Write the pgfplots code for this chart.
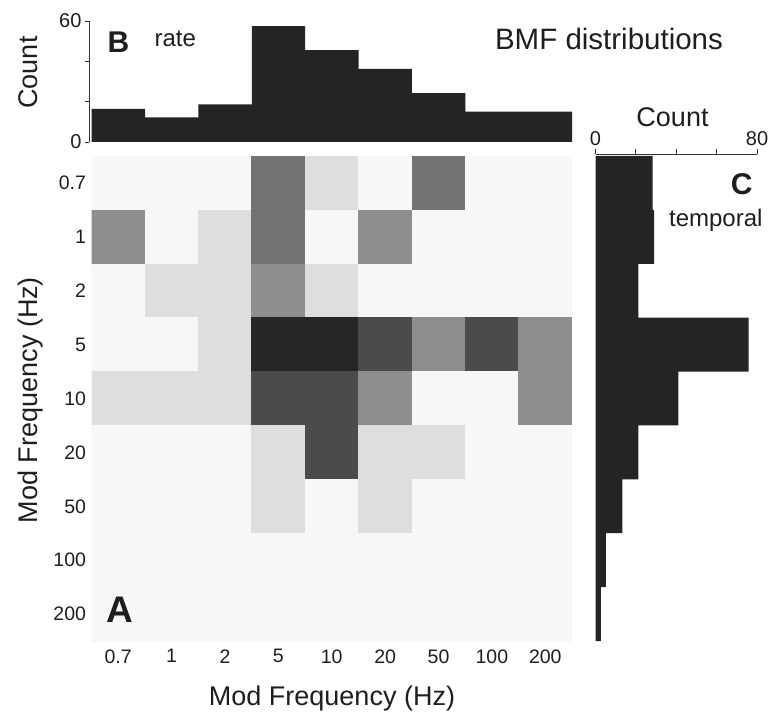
\documentclass[border=0pt]{standalone}
\usepackage{pgfplots}
\pgfplotsset{compat=1.18}
\usepackage{fontspec}
\setmainfont{Liberation Sans}
\definecolor{barc}{RGB}{36,36,36}
\definecolor{txt}{RGB}{30,30,30}
\pgfplotstableread{
x y c
0 0 0
1 0 0
2 0 0
3 0 3
4 0 1
5 0 0
6 0 3
7 0 0
8 0 0
0 1 2
1 1 0
2 1 1
3 1 3
4 1 0
5 1 2
6 1 0
7 1 0
8 1 0
0 2 0
1 2 1
2 2 1
3 2 2
4 2 1
5 2 0
6 2 0
7 2 0
8 2 0
0 3 0
1 3 0
2 3 1
3 3 5
4 3 5
5 3 4
6 3 2
7 3 4
8 3 2
0 4 1
1 4 1
2 4 1
3 4 4
4 4 4
5 4 2
6 4 0
7 4 0
8 4 2
0 5 0
1 5 0
2 5 0
3 5 1
4 5 4
5 5 1
6 5 1
7 5 0
8 5 0
0 6 0
1 6 0
2 6 0
3 6 1
4 6 0
5 6 1
6 6 0
7 6 0
8 6 0
0 7 0
1 7 0
2 7 0
3 7 0
4 7 0
5 7 0
6 7 0
7 7 0
8 7 0
0 8 0
1 8 0
2 8 0
3 8 0
4 8 0
5 8 0
6 8 0
7 8 0
8 8 0
}\heat
\begin{document}
\begin{tikzpicture}[x=1pt,y=1pt]
\path[use as bounding box] (0,0) rectangle (770,713);
% ---------------- heatmap A
\begin{axis}[
  at={(91.5pt,72pt)}, anchor=south west, scale only axis,
  width=480.5pt, height=485pt,
  xmin=-0.5, xmax=8.5, ymin=-0.5, ymax=8.5, y dir=reverse,
  xtick={0,...,8}, ytick={0,...,8},
  xticklabels={0.7,1,2,5,10,20,50,100,200},
  yticklabels={0.7,1,2,5,10,20,50,100,200},
  major tick length=0pt, axis line style={draw=none},
  ticklabel style={font=\fontsize{19.5}{22}\selectfont, text=txt},
  xticklabel style={yshift=-5pt}, yticklabel style={xshift=-2pt},
  colormap={bmf}{rgb255=(247,247,247) rgb255=(222,222,222) rgb255=(142,142,142) rgb255=(115,115,115) rgb255=(75,75,75) rgb255=(38,38,38)},
  colormap access=direct,
]
\addplot[matrix plot*, mesh/cols=9, mesh/rows=9, point meta=explicit] table[meta=c] {\heat};
\end{axis}
% ---------------- top histogram B
\begin{axis}[
  at={(89pt,571pt)}, anchor=south west, scale only axis,
  width=483pt, height=121pt,
  xmin=-0.55, xmax=8.5, ymin=0, ymax=60,
  axis x line=none, axis y line*=left,
  ytick={0,20,40,60}, yticklabels={0,,,60},
  tick align=outside, major tick length=4pt,
  axis line style={line width=0.8pt, black!80}, tick style={line width=0.8pt, black!80},
  ticklabel style={font=\fontsize{20}{22}\selectfont, text=txt},
]
\addplot[ybar, bar width=1, fill=barc, draw=none] coordinates {
(0,16.4) (1,12.2) (2,18.7) (3,57.4) (4,45.5) (5,36.2) (6,24.2) (7,15.0) (8,15.0)};
\end{axis}
% ---------------- right histogram C
\begin{axis}[
  at={(595.5pt,72pt)}, anchor=south west, scale only axis,
  width=161.5pt, height=487pt,
  xmin=0, xmax=80, ymin=-0.5, ymax=8.537,
  axis y line=none, axis x line*=top,
  xtick={0,20,40,60,80}, xticklabels={0,,,,80},
  tick align=outside, major tick length=5pt,
  axis line style={line width=0.8pt, black!80}, tick style={line width=0.8pt, black!80},
  ticklabel style={font=\fontsize{20}{22}\selectfont, text=txt},
]
\addplot[xbar, bar width=1, fill=barc, draw=none] coordinates {
(28.3,8) (29.0,7) (21.2,6) (75.9,5) (41.1,4) (21.2,3) (13.3,2) (5.1,1) (2.7,0)};
\end{axis}
% ---------------- texts
\node[anchor=base, font=\fontsize{29.5}{32}\selectfont, text=txt] at (609,663) {BMF distributions};
\node[anchor=base west, font=\fontsize{30}{32}\selectfont\bfseries, text=txt] at (104,660) {B};
\node[anchor=base west, font=\fontsize{24}{26}\selectfont, text=txt] at (151,666) {rate};
\node[anchor=base, rotate=90, font=\fontsize{27}{30}\selectfont, text=txt] at (37,640.5) {Count};
\node[anchor=base, font=\fontsize{27}{30}\selectfont, text=txt] at (672.5,586) {Count};
\node[anchor=base east, font=\fontsize{30}{32}\selectfont\bfseries, text=txt] at (756,518) {C};
\node[anchor=base east, font=\fontsize{24}{26}\selectfont, text=txt] at (766,486) {temporal};
\node[anchor=base west, font=\fontsize{37}{40}\selectfont\bfseries, text=txt] at (103,91) {A};
\node[anchor=base, font=\fontsize{27}{30}\selectfont, text=txt] at (332,8) {Mod Frequency (Hz)};
\node[anchor=base, rotate=90, font=\fontsize{27}{30}\selectfont, text=txt] at (37,313) {Mod Frequency (Hz)};
\end{tikzpicture}
\end{document}
